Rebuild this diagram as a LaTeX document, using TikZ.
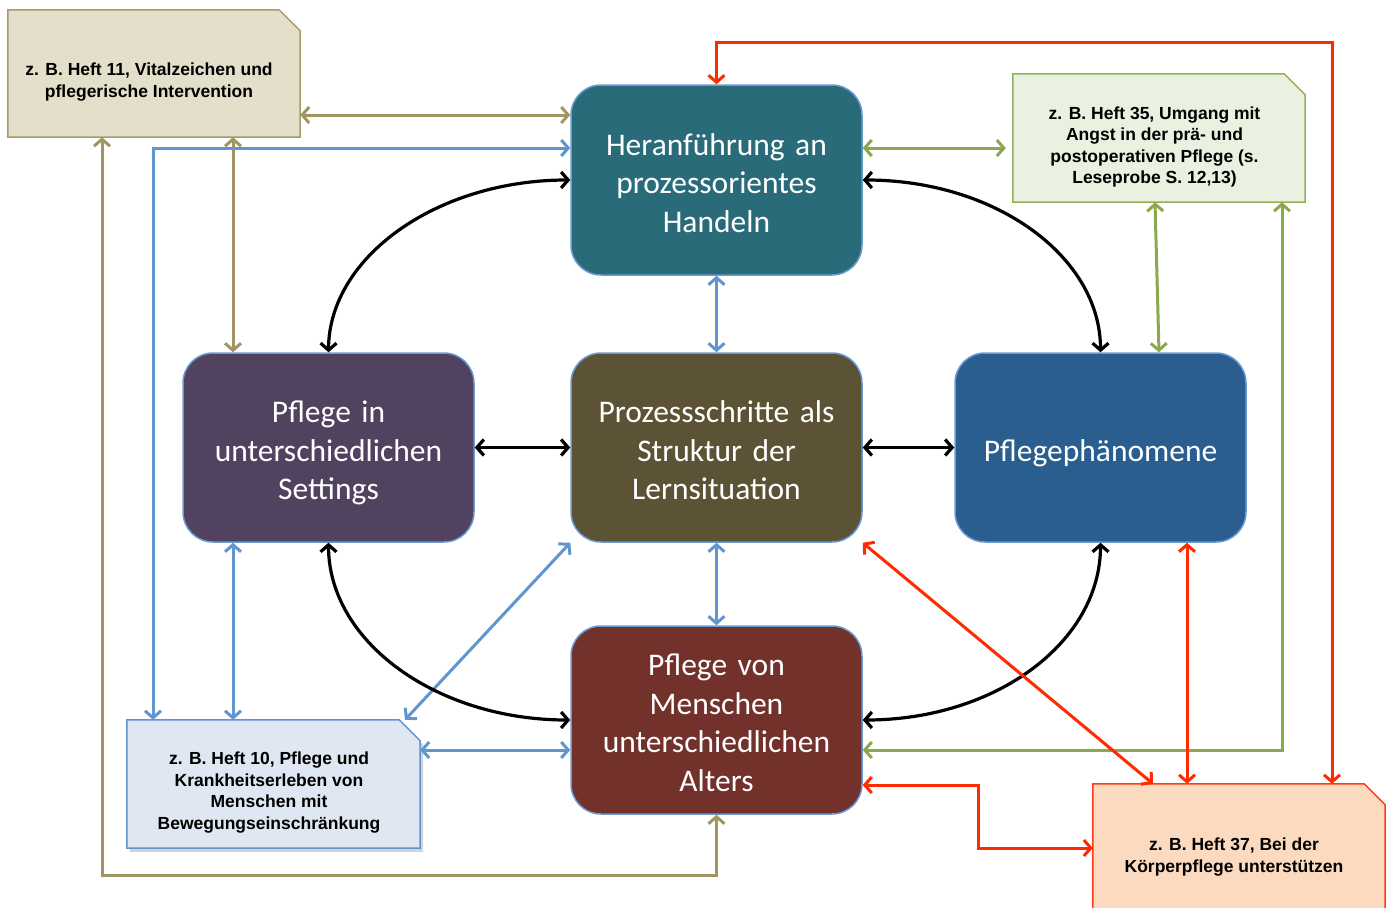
\documentclass[tikz,border=0pt]{standalone}
\usepackage{fontspec}
\setmainfont{Carlito}
\newfontfamily\notefont{Liberation Sans}
\usetikzlibrary{arrows.meta,calc,shadows,backgrounds}
\definecolor{boxline}{HTML}{6A9AD0}
\definecolor{cTop}{HTML}{2A6B79}
\definecolor{cLeft}{HTML}{51425F}
\definecolor{cCenter}{HTML}{5C5235}
\definecolor{cRight}{HTML}{295E8F}
\definecolor{cBottom}{HTML}{73312C}
\definecolor{n1fill}{HTML}{E3DFCB}
\definecolor{n1line}{HTML}{A89B67}
\definecolor{n2fill}{HTML}{EBF1E0}
\definecolor{n2line}{HTML}{92B157}
\definecolor{n3fill}{HTML}{DFE7F2}
\definecolor{n3line}{HTML}{5F93CF}
\definecolor{n4fill}{HTML}{FBDAC0}
\definecolor{n4line}{HTML}{FF3A1A}
\definecolor{lTan}{HTML}{A39563}
\definecolor{lBlue}{HTML}{5F96D0}
\definecolor{lGreen}{HTML}{8AA94C}
\definecolor{lRed}{HTML}{FF2A00}
\begin{document}
\begin{tikzpicture}[x=1pt,y=-1pt,
  mainbox/.style={rectangle, rounded corners=30pt, draw=boxline, line width=1.5pt,
    minimum width=291pt, minimum height=189pt, text width=280pt, align=center,
    text=white, font=\fontsize{31.5}{38.5}\selectfont, inner sep=0pt,
    execute at begin node={\rule{0pt}{36pt}},
    execute at end node={\rule[-9pt]{0pt}{9pt}}},
  notebox/.style={rectangle, inner sep=0pt, minimum width=292pt, minimum height=127pt},
  notetext/.style={align=center, inner sep=0pt, font=\notefont\bfseries\fontsize{17.5}{21.5}\selectfont,
    execute at begin node={\rule{0pt}{19pt}},
    execute at end node={\rule[-4pt]{0pt}{4pt}}},
  notepath/.style={line width=1.5pt},
  conn/.style={line width=3pt, line join=miter,
    {Straight Barb[length=7pt,width=16pt]}-{Straight Barb[length=7pt,width=16pt]}},
  tanl/.style={conn, draw=lTan},
  bluel/.style={conn, draw=lBlue},
  greenl/.style={conn, draw=lGreen},
  redl/.style={conn, draw=lRed},
  blackl/.style={conn, draw=black, line width=3.2pt},
]
\clip (0,0) rectangle (1393,908);

% main boxes
\node[mainbox, fill=cTop, minimum height=190pt] (top) at (716.5,180) {Heranführung an\\prozessorientes\\Handeln};
\node[mainbox, fill=cLeft] (left) at (328.5,447.5) {Pflege in\\unterschiedlichen\\Settings};
\node[mainbox, fill=cCenter] (center) at (716.5,447.5) {Prozessschritte als\\Struktur der\\Lernsituation};
\node[mainbox, fill=cRight] (right) at (1100.5,447.5) {Pflegephänomene};
\node[mainbox, fill=cBottom, minimum height=188pt] (bottom) at (716.5,720) {Pflege von\\Menschen\\unterschiedlichen\\Alters};

% notes
\node[notebox] (note1) at (154,73.5) {};
\node[notebox, minimum height=128pt] (note2) at (1159,138) {};
\node[notebox, minimum width=293pt, minimum height=128pt] (note3) at (273.5,784) {};
\node[notebox, minimum height=136pt] (note4) at (1239,852) {};

\begin{scope}[on background layer]
  \draw[notepath, fill=n1fill, draw=n1line] (note1.north west) -- ($(note1.north east)+(-21,0)$) -- ($(note1.north east)+(0,21)$) -- (note1.south east) -- (note1.south west) -- cycle;
  \draw[notepath, fill=n2fill, draw=n2line] (note2.north west) -- ($(note2.north east)+(-21,0)$) -- ($(note2.north east)+(0,21)$) -- (note2.south east) -- (note2.south west) -- cycle;
  \draw[notepath, fill=n3fill, draw=n3line, drop shadow={shadow xshift=3pt, shadow yshift=-4pt, opacity=0.35}] (note3.north west) -- ($(note3.north east)+(-21,0)$) -- ($(note3.north east)+(0,21)$) -- (note3.south east) -- (note3.south west) -- cycle;
  \draw[notepath, fill=n4fill, draw=n4line] (note4.north west) -- ($(note4.north east)+(-21,0)$) -- ($(note4.north east)+(0,21)$) -- (note4.south east) -- (note4.south west) -- cycle;
\end{scope}

\node[notetext] (t1) at ($(note1)+(-5,8.5)$) {z. B. Heft 11, Vitalzeichen und\\pflegerische Intervention};
\node[notetext] (t2) at ($(note2)+(-4.5,9)$) {z. B. Heft 35, Umgang mit\\Angst in der prä- und\\postoperativen Pflege (s.\\Leseprobe S. 12,13)};
\node[notetext] (t3) at ($(note3)+(-4.5,8.5)$) {z. B. Heft 10, Pflege und\\Krankheitserleben von\\Menschen mit\\Bewegungseinschränkung};
\node[notetext] (t4) at ($(note4)+(-5,5)$) {z. B. Heft 37, Bei der\\Körperpflege unterstützen};

% tan connectors
\draw[tanl] (note1.east |- 0,115) -- (top.west |- 0,115);
\draw[tanl] (note1.south -| 233,0) -- (left.north -| 233,0);
\draw[tanl] (note1.south -| 102,0) -- (102,875) -- (716.5,875) -- (bottom.south);

% blue connectors
\draw[bluel] (top.west |- 0,148) -- (153,148) -- (153,718) -- (note3.north -| 153,0);
\draw[bluel] (top.south) -- (center.north);
\draw[bluel] (center.south) -- (bottom.north);
\draw[bluel] (left.south -| 233,0) -- (note3.north -| 233,0);
\draw[bluel] (center.south west) -- (note3.north -| 405,0);
\draw[bluel] (note3.east |- 0,750) -- (bottom.west |- 0,750);

% black connectors
\draw[blackl] (top.west) .. controls (437,180) and (329,257) .. (left.north);
\draw[blackl] (top.east) .. controls (996,180) and (1100.5,257) .. (right.north);
\draw[blackl] (left.east) -- (center.west);
\draw[blackl] (center.east) -- (right.west);
\draw[blackl] (left.south) .. controls (328.5,642) and (437,720) .. (bottom.west);
\draw[blackl] (right.south) .. controls (1100.5,642) and (996,720) .. (bottom.east);

% green connectors
\draw[greenl, shorten >=7pt] (top.east |- 0,148) -- (note2.west |- 0,148);
\draw[greenl] (note2.south -| 1155,0) -- (right.north -| 1159,0);
\draw[greenl] (note2.south -| 1282,0) -- (1282,750) -- (bottom.east |- 0,750);

% red connectors
\draw[redl] (top.north) -- (716.5,42) -- (1332,42) -- (note4.north -| 1332,0);
\draw[redl] (center.south east) -- (note4.north -| 1153,0);
\draw[redl] (right.south -| 1187,0) -- (note4.north -| 1187,0);
\draw[redl] (bottom.east |- 0,785) -- (978,785) -- (978,848) -- (note4.west |- 0,848);
\end{tikzpicture}
\end{document}
